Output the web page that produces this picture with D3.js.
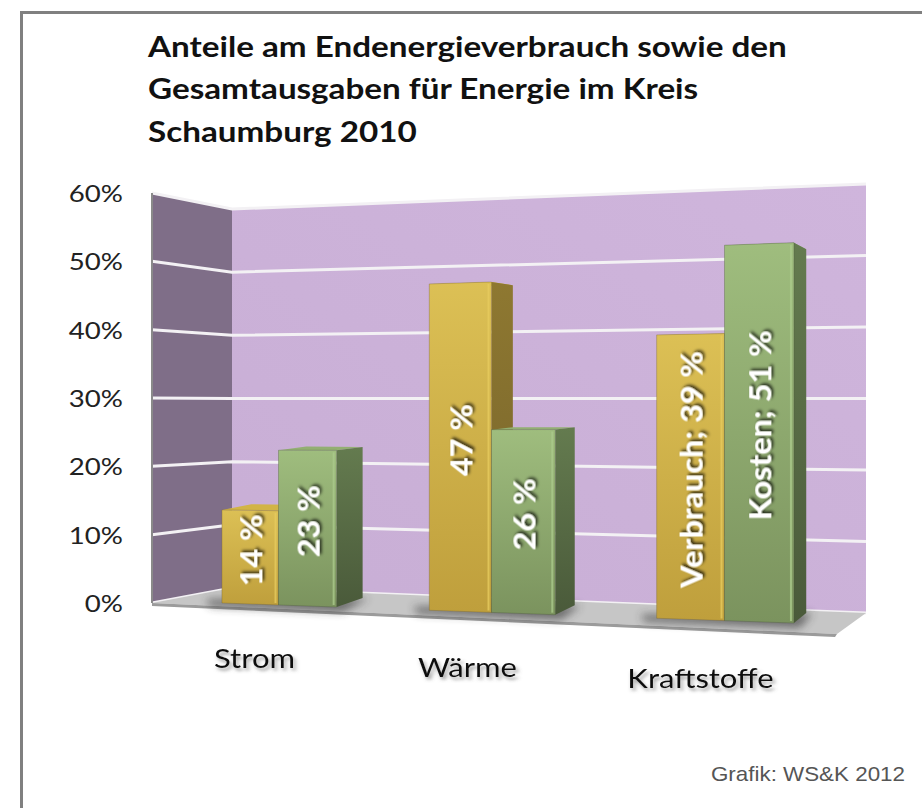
<!DOCTYPE html>
<html>
<head>
<meta charset="utf-8">
<script src="https://cdn.jsdelivr.net/npm/d3@7"></script>
<style>
  html, body { margin: 0; padding: 0; background: #fff; }
  svg { display: block; }
</style>
</head>
<body>
<script>
// ==========================================
// 1. DATA
// ==========================================

const categories = ["Strom", "Wärme", "Kraftstoffe"];
const seriesNames = ["Verbrauch", "Kosten"];
const verbrauchShare = [0.14, 0.47, 0.39];
const kostenShare = [0.23, 0.26, 0.51];
const yTicks = [0, 0.1, 0.2, 0.3, 0.4, 0.5, 0.6];
const titleLines = [
    "Anteile am Endenergieverbrauch sowie den",
    "Gesamtausgaben für Energie im Kreis",
    "Schaumburg 2010"
];
const namedLabelCategories = ["Kraftstoffe"]; // these labels also show the series name
const creditText = "Grafik: WS&K 2012";

// ==========================================
// 2. CONFIGURATION
// ==========================================

const width = 922;
const height = 808;
const textStretch = 1.15; // the reference fonts are drawn a bit wide

const colors = {
    Verbrauch: {top: "#dcc055", bottom: "#bf9f3c", side: ["#8e7831", "#75622a"], lid: "#d2b445", hi: "#e6cb5e"},
    Kosten:    {top: "#9fbd7e", bottom: "#7b935e", side: ["#647b4f", "#4a5a3a"], lid: "#93af72", hi: "#aac98b"}
};

// Perspective "scales": the chart sits in a 3D box, so each plane gets a
// y-scale at its left and right edge, and points in between are interpolated.
const yDomain = [0, 0.6];

// side wall (front edge) and back wall
const sideWallX = 152, cornerX = 232, backRightX = 866;
const yWallFront = d3.scaleLinear().domain(yDomain).range([603, 193]);
const yWallBackL = d3.scaleLinear().domain(yDomain).range([588, 209]);
const yWallBackR = d3.scaleLinear().domain(yDomain).range([613, 184]);
const floorFrontRight = [837, 634];

// plane of the bar front faces and bar back faces
const barPlaneT = d3.scaleLinear().domain([222, 804]).range([0, 1]);
const yFrontL = d3.scaleLinear().domain(yDomain).range([603, 204]);
const yFrontR = d3.scaleLinear().domain(yDomain).range([623.4, 175]);
const yBackL = d3.scaleLinear().domain(yDomain).range([593.2, 209.8]);
const yBackR = d3.scaleLinear().domain(yDomain).range([613, 185]);

function planeY(left, right, t) {
    return (x, v) => d3.interpolateNumber(left(v), right(v))(t(x));
}
const yBarFront = planeY(yFrontL, yFrontR, barPlaneT);
const yBarBack = planeY(yBackL, yBackR, barPlaneT);

// horizontal: band scale in "depth units", then a pow scale for the perspective squeeze
const uBand = d3.scaleBand().domain(categories).range([0, 3]).paddingInner(0.435).paddingOuter(0.2175);
const uSeries = d3.scaleBand().domain(seriesNames).range([0, uBand.bandwidth()]);
const xPersp = d3.scalePow().exponent(2).domain([9.65, 12.65]).range([179.5, 848.5]);
const px = u => xPersp(u + 9.65);

// depth of a bar (side face width) shrinks towards the right
const sideDepth = d3.scaleLinear().domain([336, 804]).range([26, 12]);

// floor front edge (for category labels)
const yFloorFront = d3.scaleLinear().domain([sideWallX, floorFrontRight[0]]).range([603, floorFrontRight[1]]);

// ==========================================
// 3. SVG SETUP
// ==========================================

const svg = d3.select("body").append("svg")
    .attr("width", width)
    .attr("height", height);

const defs = svg.append("defs");

seriesNames.forEach(s => {
    const gFront = defs.append("linearGradient").attr("id", "front-" + s)
        .attr("x1", 0).attr("y1", 0).attr("x2", 0).attr("y2", 1);
    gFront.append("stop").attr("offset", "0%").attr("stop-color", colors[s].top);
    gFront.append("stop").attr("offset", "100%").attr("stop-color", colors[s].bottom);

    const gSide = defs.append("linearGradient").attr("id", "side-" + s)
        .attr("x1", 0).attr("y1", 0).attr("x2", 0).attr("y2", 1);
    gSide.append("stop").attr("offset", "0%").attr("stop-color", colors[s].side[0]);
    gSide.append("stop").attr("offset", "100%").attr("stop-color", colors[s].side[1]);
});

const backGrad = defs.append("linearGradient").attr("id", "backwall")
    .attr("x1", 0).attr("y1", 1).attr("x2", 1).attr("y2", 0);
backGrad.append("stop").attr("offset", "0%").attr("stop-color", "#c8aed5");
backGrad.append("stop").attr("offset", "100%").attr("stop-color", "#cfb5dc");

// white label shadow
const labelShadow = defs.append("filter").attr("id", "labelShadow")
    .attr("x", "-20%").attr("y", "-20%").attr("width", "140%").attr("height", "140%");
labelShadow.append("feDropShadow").attr("dx", 2).attr("dy", 2)
    .attr("stdDeviation", 1.6).attr("flood-color", "#000").attr("flood-opacity", 0.75);

// grey shadow under category labels
const catShadow = defs.append("filter").attr("id", "catShadow")
    .attr("x", "-20%").attr("y", "-20%").attr("width", "140%").attr("height", "160%");
catShadow.append("feDropShadow").attr("dx", 2).attr("dy", 3)
    .attr("stdDeviation", 1.8).attr("flood-color", "#555").attr("flood-opacity", 0.55);

const blur = defs.append("filter").attr("id", "blur")
    .attr("x", "-30%").attr("y", "-100%").attr("width", "160%").attr("height", "300%");
blur.append("feGaussianBlur").attr("stdDeviation", 4);

// outer frame
svg.append("path")
    .attr("d", `M21.5,${height + 5} L21.5,12.5 L${width + 5},12.5`)
    .attr("fill", "none")
    .attr("stroke", "#808080")
    .attr("stroke-width", 3);

// ==========================================
// 4. TITLE
// ==========================================

const titleG = svg.append("g").attr("transform", "translate(148,0)");
const titleTexts = titleG.selectAll("text")
    .data(titleLines)
    .join("text")
    .attr("x", 0)
    .attr("y", (d, i) => 57 + i * 42.5)
    .attr("font-family", "Lato, 'Noto Sans', sans-serif")
    .attr("font-weight", "bold")
    .attr("font-size", 29)
    .attr("fill", "#111")
    .text(d => d);
// stretch the title so the first line spans the same width as the reference
const firstLineWidth = titleTexts.node().getComputedTextLength();
titleG.attr("transform", `translate(148,0) scale(${639 / firstLineWidth},1)`);

// ==========================================
// 5. WALLS, GRID, FLOOR
// ==========================================

const line = d3.line();
const poly = pts => line(pts) + "Z";

// back wall
svg.append("path")
    .attr("d", poly([
        [cornerX, yWallBackL(0)], [backRightX, yWallBackR(0)],
        [backRightX, yWallBackR(0.6)], [cornerX, yWallBackL(0.6)]
    ]))
    .attr("fill", "url(#backwall)");

// side wall
svg.append("path")
    .attr("d", poly([
        [sideWallX, yWallFront(0)], [cornerX, yWallBackL(0)],
        [cornerX, yWallBackL(0.6)], [sideWallX, yWallFront(0.6)]
    ]))
    .attr("fill", "#7f6e88");

// gridlines across both walls
svg.append("g").selectAll("path")
    .data(yTicks)
    .join("path")
    .attr("d", v => line([[sideWallX, yWallFront(v)], [cornerX, yWallBackL(v)], [backRightX, yWallBackR(v)]]))
    .attr("fill", "none")
    .attr("stroke", "#f3f1f4")
    .attr("stroke-width", 3);

// left edge of side wall
svg.append("line")
    .attr("x1", sideWallX).attr("x2", sideWallX)
    .attr("y1", yWallFront(0.6)).attr("y2", yWallFront(0))
    .attr("stroke", "#8a8a8a").attr("stroke-width", 2);

// floor
svg.append("path")
    .attr("d", poly([
        [sideWallX, yWallFront(0)], [cornerX, yWallBackL(0)],
        [backRightX, yWallBackR(0)], floorFrontRight
    ]))
    .attr("fill", "#c6c6c6");
svg.append("path")
    .attr("d", poly([
        [sideWallX, yWallFront(0)], floorFrontRight,
        [floorFrontRight[0] - 2, floorFrontRight[1] + 3], [sideWallX, yWallFront(0) + 3]
    ]))
    .attr("fill", "#9b9b9b");

// y tick labels (on the front edge of the side wall)
svg.append("g").selectAll("text")
    .data(yTicks)
    .join("text")
    .attr("transform", v => `translate(123,${yWallFront(v) + 3}) scale(${textStretch},1)`)
    .attr("text-anchor", "end")
    .attr("dominant-baseline", "middle")
    .attr("font-family", "Lato, 'Noto Sans', sans-serif")
    .attr("font-size", 24)
    .attr("fill", "#222")
    .text(d3.format(".0%"));

// ==========================================
// 6. BARS
// ==========================================

const bars = categories.flatMap((cat, i) => seriesNames.map((s, j) => ({
    cat: cat,
    series: s,
    value: j === 0 ? verbrauchShare[i] : kostenShare[i]
})));

bars.forEach(d => {
    const u0 = uBand(d.cat) + uSeries(d.series);
    d.xl = px(u0);
    d.xr = px(u0 + uSeries.bandwidth());
    d.xlb = d.xl + sideDepth(d.xl);
    d.xrb = d.xr + sideDepth(d.xr);
});

// soft shadows on the floor under each category
svg.append("g").selectAll("path")
    .data(categories)
    .join("path")
    .attr("d", cat => {
        const xl = px(uBand(cat)) - 16;
        const xr = px(uBand(cat) + uBand.bandwidth());
        const xrb = xr + sideDepth(xr) + 6;
        return poly([
            [xl, yBarFront(xl, 0) - 3], [xrb, yBarBack(xrb, 0)],
            [xr + 6, yBarFront(xr, 0) + 5], [xl + 4, yBarFront(xl, 0) + 4]
        ]);
    })
    .attr("fill", "#333")
    .attr("opacity", 0.6)
    .attr("filter", "url(#blur)");

const barG = svg.append("g").selectAll("g")
    .data(bars)
    .join("g");

// top face
barG.append("path")
    .attr("d", d => poly([
        [d.xl, yBarFront(d.xl, d.value)], [d.xr, yBarFront(d.xr, d.value)],
        [d.xrb, yBarBack(d.xrb, d.value)], [d.xlb, yBarBack(d.xlb, d.value)]
    ]))
    .attr("fill", d => colors[d.series].lid);

// side face
barG.append("path")
    .attr("d", d => poly([
        [d.xr, yBarFront(d.xr, 0)], [d.xr, yBarFront(d.xr, d.value)],
        [d.xrb, yBarBack(d.xrb, d.value)], [d.xrb, yBarBack(d.xrb, 0)]
    ]))
    .attr("fill", d => `url(#side-${d.series})`);

// front face
barG.append("path")
    .attr("d", d => poly([
        [d.xl, yBarFront(d.xl, 0)], [d.xr, yBarFront(d.xr, 0)],
        [d.xr, yBarFront(d.xr, d.value)], [d.xl, yBarFront(d.xl, d.value)]
    ]))
    .attr("fill", d => `url(#front-${d.series})`)
    .attr("stroke", d => colors[d.series].side[1])
    .attr("stroke-opacity", 0.35)
    .attr("stroke-width", 1);

// light edge near the right of the front face
barG.append("line")
    .attr("x1", d => d.xr - 3).attr("x2", d => d.xr - 3)
    .attr("y1", d => yBarFront(d.xr, d.value) + 2)
    .attr("y2", d => yBarFront(d.xr, 0) - 2)
    .attr("stroke", d => colors[d.series].hi)
    .attr("stroke-opacity", 0.8)
    .attr("stroke-width", 2);

// value labels, rotated
barG.append("text")
    .attr("transform", d => {
        const xc = (d.xl + d.xr) / 2;
        return `translate(${xc},${yBarFront(xc, d.value / 2 + 0.01)}) rotate(-90) scale(1.08,1)`;
    })
    .attr("text-anchor", "middle")
    .attr("dominant-baseline", "central")
    .attr("font-family", "Lato, 'Noto Sans', sans-serif")
    .attr("font-weight", "bold")
    .attr("font-size", 30)
    .attr("fill", "#fff")
    .attr("filter", "url(#labelShadow)")
    .text(d => {
        const pct = Math.round(d.value * 100) + " %";
        return namedLabelCategories.includes(d.cat) ? `${d.series}; ${pct}` : pct;
    });

// ==========================================
// 7. CATEGORY LABELS & CREDIT
// ==========================================

svg.append("g").selectAll("text")
    .data(categories)
    .join("text")
    .attr("transform", cat => {
        const x = px(uBand(cat) + uBand.bandwidth() / 2) - 24;
        return `translate(${x},${yFloorFront(x) + 60}) scale(${textStretch},1)`;
    })
    .attr("text-anchor", "middle")
    .attr("font-family", "Lato, 'Noto Sans', sans-serif")
    .attr("font-size", 27)
    .attr("fill", "#111")
    .attr("filter", "url(#catShadow)")
    .text(d => d);

svg.append("text")
    .attr("transform", `translate(905,781) scale(1.12,1)`)
    .attr("text-anchor", "end")
    .attr("font-family", "'Liberation Sans', Arial, sans-serif")
    .attr("font-size", 20)
    .attr("fill", "#555")
    .text(creditText);
</script>
</body>
</html>
